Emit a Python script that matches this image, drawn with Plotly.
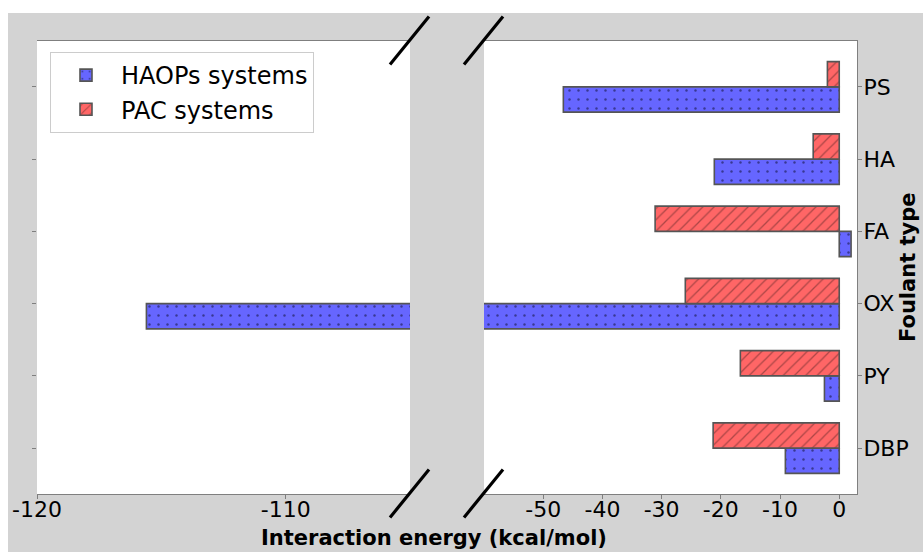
import plotly.graph_objects as go

# Foulant types, bottom to top
foulants = ["DBP", "PY", "OX", "FA", "HA", "PS"]
# Interaction energies (kcal/mol)
haops_energy = [-9.1, -2.5, -115.6, 2.0, -21.1, -46.6]
pac_energy = [-21.3, -16.7, -26.0, -31.1, -4.4, -2.0]

series_names = ["HAOPs systems", "PAC systems"]
left_ticks = [-120, -110]
right_ticks = [-50, -40, -30, -20, -10, 0]

# Figure geometry (pixels)
W, H = 923, 552
ML, MR, MT, MB = 37, 66, 41, 58
PW, PH = W - ML - MR, H - MT - MB


def px_x(p):
    return (p - ML) / PW


def px_y(p):
    return (H - MB - p) / PH


def hyphen_labels(vals):
    return [str(v) for v in vals]


LEFT_DOM = [0.0, px_x(410)]
RIGHT_DOM = [px_x(484), 1.0]

BLUE = "#6666ff"
RED = "#ff6666"
EDGE = "#555555"
GRAY_BG = "#d3d3d3"
SPINE = "#7f7f7f"

fig = go.Figure()

styles = [
    dict(color=BLUE, pattern=dict(shape=".", fgcolor="#0a0a28", size=9, solidity=0.06), offset=-0.35),
    dict(color=RED, pattern=dict(shape="/", fgcolor="#5a2525", size=8, solidity=0.16), offset=0.0),
]
values = [haops_energy, pac_energy]

for axes_i, (xa, ya) in enumerate([("x", "y"), ("x2", "y2")]):
    for name, vals, st in zip(series_names, values, styles):
        fig.add_trace(go.Bar(
            x=vals, y=foulants, orientation="h",
            name=name, legendgroup=name, showlegend=(axes_i == 0),
            width=0.35, offset=st["offset"],
            marker=dict(color=st["color"], pattern=st["pattern"],
                        line=dict(color=EDGE, width=1.6)),
            xaxis=xa, yaxis=ya,
        ))

tick_font = dict(family="DejaVu Sans", size=22, color="black")
yrange = [-0.635, 5.635]

fig.update_layout(
    width=W, height=H,
    margin=dict(l=ML, r=MR, t=MT, b=MB, pad=0, autoexpand=False),
    paper_bgcolor=GRAY_BG,
    plot_bgcolor="white",
    barmode="overlay",
    showlegend=True,
    legend=dict(
        x=px_x(50), y=px_y(52), xanchor="left", yanchor="top",
        bgcolor="white", bordercolor="#cccccc", borderwidth=1,
        font=dict(family="DejaVu Sans", size=24, color="black"),
        itemwidth=60, tracegroupgap=0,
    ),
    xaxis=dict(
        domain=LEFT_DOM, range=[-120, -105], anchor="y", automargin=False,
        tickvals=left_ticks, ticktext=hyphen_labels(left_ticks),
        ticks="outside", ticklen=4, tickcolor=SPINE, ticklabelstandoff=-8,
        tickfont=tick_font, showgrid=False, zeroline=False,
        showline=True, linecolor=SPINE, linewidth=1, mirror=True,
    ),
    xaxis2=dict(
        domain=RIGHT_DOM, range=[-60, 3], anchor="y2", automargin=False,
        tickvals=right_ticks, ticktext=hyphen_labels(right_ticks),
        ticks="outside", ticklen=4, tickcolor=SPINE, ticklabelstandoff=-8,
        tickfont=tick_font, showgrid=False, zeroline=False,
        showline=True, linecolor=SPINE, linewidth=1, mirror=True,
    ),
    yaxis=dict(
        type="category", categoryorder="array", categoryarray=foulants,
        range=yrange, anchor="x", side="left", automargin=False,
        ticks="outside", ticklen=4, tickcolor=SPINE, showticklabels=False,
        showgrid=False, zeroline=False, showline=False,
    ),
    yaxis2=dict(
        type="category", categoryorder="array", categoryarray=foulants,
        range=yrange, anchor="x2", side="right", matches="y", automargin=False,
        ticks="outside", ticklen=4, tickcolor=SPINE, tickfont=tick_font,
        ticklabelstandoff=-3,
        showgrid=False, zeroline=False,
        showline=True, linecolor=SPINE, linewidth=1,
    ),
)

# White border strips along the top and left edges of the canvas
fig.add_shape(type="rect", xref="paper", yref="paper",
              x0=px_x(0), x1=px_x(W), y0=px_y(13), y1=px_y(0),
              fillcolor="white", line=dict(width=0), layer="below")
fig.add_shape(type="rect", xref="paper", yref="paper",
              x0=px_x(0), x1=px_x(8), y0=px_y(H), y1=px_y(0),
              fillcolor="white", line=dict(width=0), layer="below")

# Diagonal axis-break marks at the panel corners
dx, dy = 19.5, 24
for cx in (409.5, 483.5):
    for cy in (40.5, 493.5):
        fig.add_shape(type="line", xref="paper", yref="paper",
                      x0=px_x(cx - dx), y0=px_y(cy + dy),
                      x1=px_x(cx + dx), y1=px_y(cy - dy),
                      line=dict(color="black", width=3.2), layer="above")

title_font = dict(family="DejaVu Sans", size=21, color="black", weight="bold")
fig.add_annotation(text="Interaction energy (kcal/mol)", xref="paper", yref="paper",
                   x=px_x(434), y=px_y(538), xanchor="center", yanchor="middle",
                   showarrow=False, font=title_font)
fig.add_annotation(text="Foulant type", xref="paper", yref="paper",
                   x=px_x(908), y=px_y(267), xanchor="center", yanchor="middle",
                   textangle=-90, showarrow=False, font=title_font)

fig.write_html("out.html")
